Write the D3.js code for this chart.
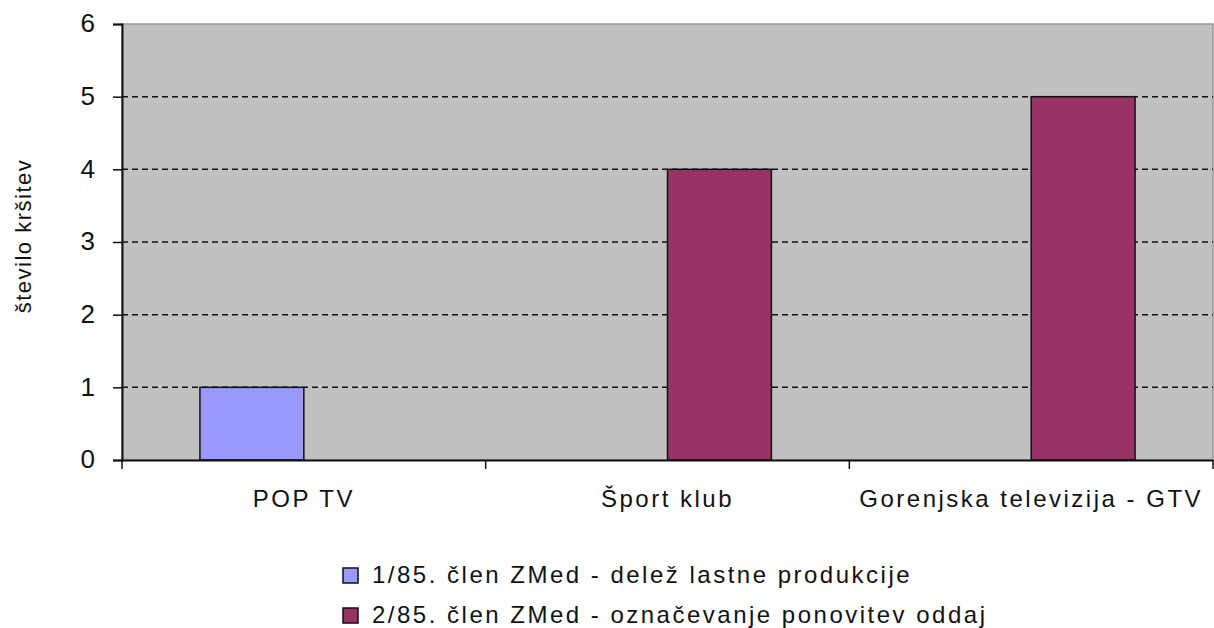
<!DOCTYPE html>
<html>
<head>
<meta charset="utf-8">
<script src="https://cdn.jsdelivr.net/npm/d3@7"></script>
<style>
  body { margin: 0; background: #fff; }
  text { font-family: "Liberation Sans", Arial, sans-serif; fill: #111; }
</style>
</head>
<body>
<div id="chart"></div>
<script>
const categories = ['POP TV', 'Šport klub', 'Gorenjska televizija - GTV']
const seriesNames = [
  '1/85. člen ZMed - delež lastne produkcije',
  '2/85. člen ZMed - označevanje ponovitev oddaj'
]
const series1 = [1, 0, 0]
const series2 = [0, 4, 5]
const yTicks = [0, 1, 2, 3, 4, 5, 6]
const colors = ['#9999ff', '#993366']

const width = 1214
const height = 628
const margin = { top: 24, right: 1, bottom: 168, left: 122 }

const data = categories.map((c, i) => ({ cat: c, values: [series1[i], series2[i]] }))

const svg = d3.select('#chart').append('svg')
  .attr('width', width)
  .attr('height', height)

const x0 = d3.scaleBand().domain(categories)
  .range([margin.left, width - margin.right])
const x1 = d3.scaleBand().domain(d3.range(seriesNames.length))
  .range([0, x0.bandwidth()]).paddingOuter(0.75)
const y = d3.scaleLinear().domain([0, 6]).range([height - margin.bottom, margin.top])

// plot background
svg.append('rect')
  .attr('x', margin.left).attr('y', margin.top)
  .attr('width', width - margin.right - margin.left)
  .attr('height', y(0) - margin.top)
  .attr('fill', '#c0c0c0')
  .attr('stroke', '#9a9a9a')
  .attr('stroke-width', 1.5)

// dashed gridlines
svg.append('g').selectAll('line')
  .data(yTicks.filter(t => t > 0 && t < 6)).enter()
  .append('line')
  .attr('x1', margin.left).attr('x2', width - margin.right)
  .attr('y1', d => y(d)).attr('y2', d => y(d))
  .attr('stroke', '#111')
  .attr('stroke-width', 1.5)
  .attr('stroke-dasharray', '6,4')

// bars
const groups = svg.append('g').selectAll('g')
  .data(data).enter()
  .append('g')
  .attr('transform', d => `translate(${x0(d.cat)},0)`)

groups.selectAll('rect')
  .data(d => d.values.map((v, i) => ({ v, i })).filter(e => e.v > 0)).enter()
  .append('rect')
  .attr('x', d => x1(d.i))
  .attr('width', x1.bandwidth())
  .attr('y', d => y(d.v))
  .attr('height', d => y(0) - y(d.v))
  .attr('fill', d => colors[d.i])
  .attr('stroke', '#111')
  .attr('stroke-width', 1.5)

// y axis
const yAxis = svg.append('g')
  .attr('transform', `translate(${margin.left},0)`)
  .call(d3.axisLeft(y).tickValues(yTicks).tickFormat(d3.format('d')).tickSize(9).tickPadding(18))
yAxis.select('.domain').attr('stroke', '#111').attr('stroke-width', 2)
yAxis.selectAll('.tick line').attr('stroke', '#111').attr('stroke-width', 1.5)
yAxis.selectAll('.tick text')
  .style('font-size', '26px')
  .attr('dy', '0.3em')
  .attr('fill', '#111')

// x axis
const xAxis = svg.append('g')
  .attr('transform', `translate(0,${y(0)})`)
  .call(d3.axisBottom(x0).tickSize(0).tickPadding(30))
xAxis.select('.domain').attr('stroke', '#111').attr('stroke-width', 2)
xAxis.selectAll('.tick text')
  .style('font-size', '24px')
  .style('letter-spacing', '2.5px')
  .attr('fill', '#111')

// category separators
svg.append('g').selectAll('line')
  .data(categories).enter()
  .append('line')
  .attr('x1', d => x0(d)).attr('x2', d => x0(d))
  .attr('y1', y(0)).attr('y2', y(0) + 9)
  .attr('stroke', '#111')
  .attr('stroke-width', 1.5)
svg.append('line')
  .attr('x1', width - margin.right).attr('x2', width - margin.right)
  .attr('y1', y(0)).attr('y2', y(0) + 9)
  .attr('stroke', '#111').attr('stroke-width', 1.5)

// y label
svg.append('text')
  .attr('transform', `translate(31,${(margin.top + y(0)) / 2 - 6}) rotate(-90)`)
  .attr('text-anchor', 'middle')
  .style('font-size', '22px')
  .style('letter-spacing', '1.5px')
  .text('število kršitev')

// legend
const legend = svg.append('g').selectAll('g')
  .data(seriesNames).enter()
  .append('g')
  .attr('transform', (d, i) => `translate(343,${568 + i * 40})`)
legend.append('rect')
  .attr('width', 15).attr('height', 15)
  .attr('fill', (d, i) => colors[i])
  .attr('stroke', '#111').attr('stroke-width', 1.5)
legend.append('text')
  .attr('x', 29).attr('y', 15)
  .style('font-size', '24px')
  .style('letter-spacing', '2.5px')
  .text(d => d)
</script>
</body>
</html>
